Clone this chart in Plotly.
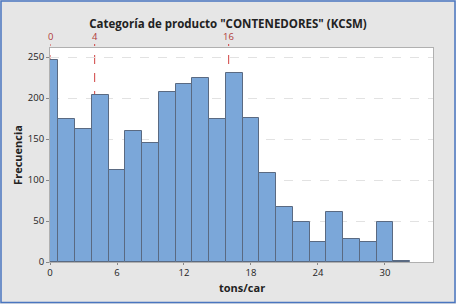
import plotly.graph_objects as go

# Data
bin_width = 1.5
bin_centers = [0, 1.5, 3, 4.5, 6, 7.5, 9, 10.5, 12, 13.5, 15, 16.5, 18, 19.5,
               21, 22.5, 24, 25.5, 27, 28.5, 30, 31.5]
frequencies = [246, 174, 162, 204, 112, 160, 145, 207, 217, 224, 175, 231, 176,
               109, 67, 49, 25, 61, 28, 25, 49, 1]
x_ticks = [0, 6, 12, 18, 24, 30]
y_ticks = [0, 50, 100, 150, 200, 250]
ref_lines = [0, 4, 16]

title = 'Categoría de producto "CONTENEDORES" (KCSM)'
x_title = "tons/car"
y_title = "Frecuencia"

FONT = "Open Sans"
bar_color = "#7BA7D9"
edge_color = "#5A6A82"
ref_color = "#D0403F"
bg_color = "#E6E6E6"

PLOT_H = 214

fig = go.Figure()
fig.add_trace(go.Bar(
    x=bin_centers, y=frequencies, width=bin_width,
    marker=dict(color=bar_color, line=dict(color=edge_color, width=1)),
    showlegend=False, hoverinfo="x+y",
))

for v in ref_lines:
    fig.add_shape(type="line", xref="x", yref="paper", x0=v, x1=v, y0=0,
                  y1=1 + 4 / PLOT_H,
                  line=dict(color=ref_color, width=1, dash="dash"), layer="below")
    fig.add_annotation(x=v, xref="x", y=1, yref="paper", yanchor="bottom",
                       yshift=3, text=str(v), showarrow=False,
                       font=dict(family=FONT, size=9.5, color="#B03A3A"))

# x-axis title as an annotation to place it precisely
fig.add_annotation(x=0.5, xref="paper", y=0, yref="paper", yanchor="top",
                   yshift=-16, text=f"<b>{x_title}</b>", showarrow=False,
                   font=dict(family=FONT, size=11, color="#222"))

xr = [0, 34.3]
fig.update_layout(
    width=456, height=304,
    margin=dict(l=50, r=23, t=48, b=42),
    paper_bgcolor=bg_color, plot_bgcolor="white",
    font=dict(family=FONT, size=10, color="#222222"),
    title=dict(text=f"<b>{title}</b>", x=0.5, xanchor="center", y=0.922,
               yanchor="middle", font=dict(family=FONT, size=11.5, color="#222")),
    bargap=0,
    xaxis=dict(range=xr, tickvals=x_ticks, ticks="outside", ticklen=2,
               tickcolor="#888", showgrid=False, zeroline=False,
               showline=True, mirror=True, linecolor="#B0B0B0", linewidth=1,
               tickfont=dict(size=9.5, color="#222")),
    yaxis=dict(range=[0, 261], tickvals=y_ticks, ticks="outside", ticklen=3,
               tickcolor="#888", showgrid=True, gridcolor="#E2E2E2",
               griddash="dash", gridwidth=1, zeroline=False,
               showline=True, mirror=True, linecolor="#B0B0B0", linewidth=1,
               tickfont=dict(size=9.5, color="#222"),
               title=dict(text=f"<b>{y_title}</b>", standoff=2,
                          font=dict(size=11, color="#222"))),
)
# figure frame (blue border around the whole picture)
fig.add_shape(type="rect", xref="paper", yref="paper",
              x0=(1 - 50) / 383, x1=(455 - 50) / 383,
              y0=(262 - 302.5) / PLOT_H, y1=(262 - 1) / PLOT_H,
              line=dict(color="#4A76C0", width=1.5), layer="above")

fig.write_html("out.html")
